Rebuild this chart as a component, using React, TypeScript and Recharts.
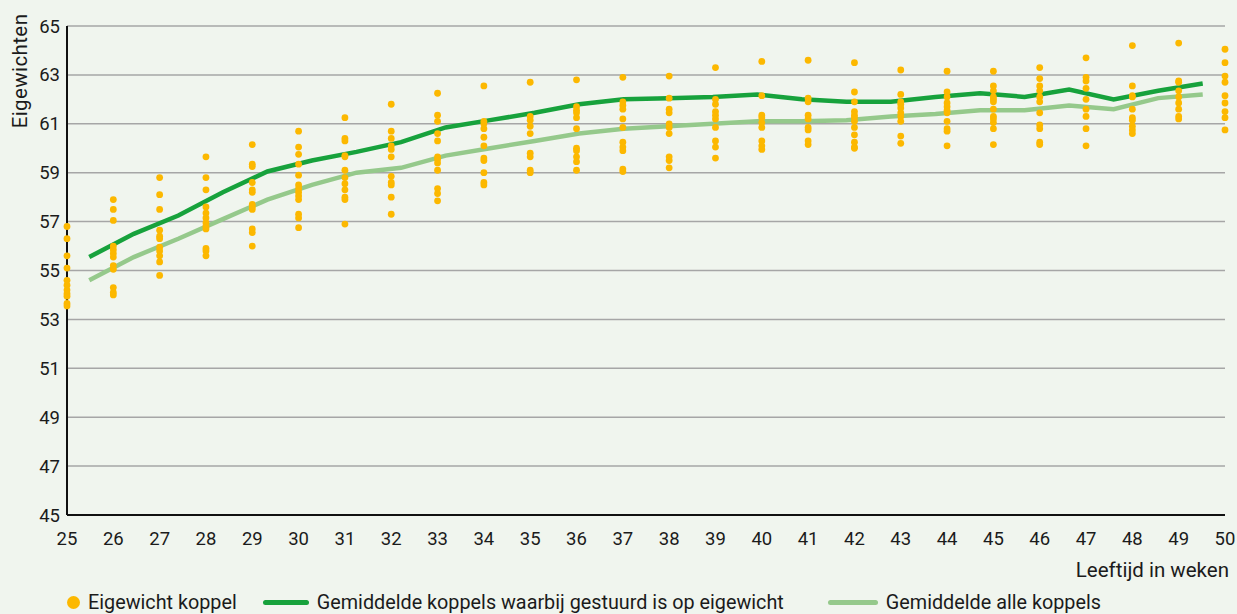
import { ComposedChart, Line, Scatter, XAxis, YAxis, CartesianGrid } from 'recharts';

const weeks = [25, 26, 27, 28, 29, 30, 31, 32, 33, 34, 35, 36, 37, 38, 39, 40, 41, 42, 43, 44, 45, 46, 47, 48, 49, 50];

// gemiddelde koppels waarbij gestuurd is op eigewicht
const gestuurd = [
  55.55, 56.5, 57.25, 58.2, 59.05, 59.5, 59.85, 60.25, 60.85, 61.15, 61.45, 61.8, 62.0,
  62.05, 62.1, 62.2, 62.0, 61.9, 61.9, 62.1, 62.25, 62.1, 62.4, 62.0, 62.35, 62.65,
];

// gemiddelde alle koppels
const alleKoppels = [
  54.6, 55.55, 56.3, 57.1, 57.9, 58.5, 59.0, 59.2, 59.7, 60.0, 60.3, 60.6, 60.8,
  60.9, 61.0, 61.1, 61.1, 61.15, 61.3, 61.4, 61.55, 61.55, 61.75, 61.6, 62.05, 62.2,
];

// eigewicht per koppel, één rij per week (zelfde volgorde als weeks)
const eigewicht = [
  [56.8, 56.3, 55.6, 55.1, 54.6, 54.4, 54.2, 54.05, 53.95, 53.65, 53.55],
  [57.9, 57.5, 57.05, 56.0, 55.85, 55.7, 55.55, 55.2, 55.05, 54.3, 54.1, 54.0],
  [58.8, 58.1, 57.5, 56.65, 56.4, 56.3, 55.95, 55.8, 55.6, 55.35, 54.8],
  [59.65, 58.8, 58.3, 57.6, 57.35, 57.15, 56.95, 56.8, 56.7, 55.9, 55.8, 55.6],
  [60.15, 59.35, 59.25, 58.6, 58.3, 58.2, 57.7, 57.6, 57.5, 56.7, 56.55, 56.0],
  [60.7, 60.05, 59.75, 59.35, 58.9, 58.5, 58.35, 58.2, 58.05, 57.9, 57.3, 57.15, 56.75],
  [61.25, 60.4, 60.3, 59.7, 59.65, 59.1, 58.8, 58.55, 58.3, 58.0, 57.9, 56.9],
  [61.8, 60.7, 60.4, 60.1, 59.95, 59.65, 58.85, 58.6, 58.5, 58.0, 57.3],
  [62.25, 61.35, 61.1, 60.6, 60.3, 59.65, 59.55, 59.4, 59.1, 58.35, 58.15, 57.85],
  [62.55, 61.1, 61.0, 60.8, 60.45, 60.1, 59.6, 59.5, 59.0, 58.6, 58.5],
  [62.7, 61.3, 61.15, 60.9, 60.6, 59.8, 59.65, 59.1, 59.0],
  [62.8, 61.7, 61.55, 61.45, 61.25, 60.8, 60.0, 59.9, 59.65, 59.45, 59.1],
  [62.9, 61.9, 61.75, 61.6, 61.2, 60.85, 60.25, 60.05, 59.9, 59.15, 59.05],
  [62.95, 62.05, 61.6, 61.45, 61.0, 60.85, 60.6, 59.65, 59.5, 59.2],
  [63.3, 62.0, 61.8, 61.5, 61.35, 61.2, 60.85, 60.3, 60.05, 59.6],
  [63.55, 62.15, 61.35, 61.25, 61.05, 60.85, 60.3, 60.1, 59.95],
  [63.6, 62.05, 61.9, 61.35, 61.2, 60.85, 60.75, 60.3, 60.15],
  [63.5, 62.3, 61.9, 61.5, 61.35, 61.25, 61.1, 60.85, 60.55, 60.25, 60.05, 60.0],
  [63.2, 62.2, 61.9, 61.8, 61.65, 61.45, 61.3, 61.1, 60.5, 60.2],
  [63.15, 62.3, 62.1, 61.85, 61.7, 61.55, 61.45, 61.1, 60.8, 60.7, 60.1],
  [63.15, 62.55, 62.35, 62.1, 62.0, 61.9, 61.6, 61.3, 61.2, 61.05, 60.8, 60.15],
  [63.3, 62.85, 62.55, 62.35, 62.1, 61.9, 61.45, 60.95, 60.8, 60.25, 60.15],
  [63.7, 62.9, 62.75, 62.45, 62.0, 61.6, 61.3, 60.8, 60.1],
  [64.2, 62.55, 62.15, 62.1, 61.6, 61.25, 61.15, 60.9, 60.75, 60.6],
  [64.3, 62.75, 62.7, 62.35, 62.1, 61.85, 61.6, 61.3, 61.2],
  [64.05, 63.5, 62.95, 62.7, 62.15, 61.85, 61.5, 61.25, 60.75],
];

const yTicks = [45, 47, 49, 51, 53, 55, 57, 59, 61, 63, 65];

const lineData = weeks.map((week, i) => ({ week, gestuurd: gestuurd[i], alle: alleKoppels[i] }));
const dotData = weeks.flatMap((week, i) => eigewicht[i].map((kg) => ({ week, kg })));

const BG = '#f0f5ee';
const ORANJE = '#fcb800';
const DONKERGROEN = '#17a23c';
const LICHTGROEN = '#95c98b';
const FONT = 'Roboto, sans-serif';
const TEXT = '#1b1b1b';

const Dot = (props: any) => <circle cx={props.cx} cy={props.cy} r={3.4} fill={ORANJE} />;

export default function App() {
  return (
    <div style={{ position: 'relative', width: 1237, height: 614, background: BG, fontFamily: FONT, color: TEXT }}>
      <style>{`body{margin:0;background:${BG};}`}</style>
      <ComposedChart width={1237} height={560} margin={{ top: 26, right: 12, bottom: 15, left: 12 }}>
        <CartesianGrid horizontal vertical={false} stroke="#a6a6a6" strokeWidth={1.5} />
        <XAxis
          xAxisId="w"
          dataKey="week"
          type="number"
          domain={[25, 50]}
          ticks={weeks}
          interval={0}
          tickLine={false}
          tickSize={0}
          tickMargin={17}
          height={30}
          axisLine={{ stroke: '#111', strokeWidth: 2 }}
          tick={{ fill: TEXT, fontSize: 18.5, fontFamily: FONT }}
        />
        {/* de lijnen staan "tussen de streepjes": 26 categorieën over dezelfde breedte */}
        <XAxis xAxisId="lijn" dataKey="week" type="number" domain={[24.5, 50.5]} height={0} hide />
        <YAxis
          dataKey="kg"
          type="number"
          domain={[45, 65]}
          ticks={yTicks}
          interval={0}
          width={55}
          tickLine={false}
          tickSize={0}
          tickMargin={7}
          axisLine={{ stroke: '#111', strokeWidth: 2 }}
          tick={{ fill: TEXT, fontSize: 18.5, fontFamily: FONT }}
        />
        <Line
          xAxisId="lijn"
          data={lineData}
          dataKey="alle"
          stroke={LICHTGROEN}
          strokeWidth={4.5}
          dot={false}
          activeDot={false}
          isAnimationActive={false}
        />
        <Line
          xAxisId="lijn"
          data={lineData}
          dataKey="gestuurd"
          stroke={DONKERGROEN}
          strokeWidth={4.5}
          dot={false}
          activeDot={false}
          isAnimationActive={false}
        />
        <Scatter xAxisId="w" data={dotData} dataKey="kg" shape={Dot} isAnimationActive={false} />
      </ComposedChart>

      <div
        style={{
          position: 'absolute',
          left: 20,
          top: 71,
          transform: 'translate(-50%, -50%) rotate(-90deg)',
          fontSize: 20.5,
          letterSpacing: 0.4,
          whiteSpace: 'nowrap',
        }}
      >
        Eigewichten
      </div>

      <div style={{ position: 'absolute', right: 8, top: 558, fontSize: 20.5, whiteSpace: 'nowrap' }}>Leeftijd in weken</div>

      <div
        style={{
          position: 'absolute',
          left: 67,
          top: 591,
          display: 'flex',
          alignItems: 'center',
          fontSize: 19.8,
          whiteSpace: 'nowrap',
        }}
      >
        <span style={{ width: 13, height: 13, borderRadius: '50%', background: ORANJE, display: 'inline-block', marginRight: 8 }} />
        <span>Eigewicht koppel</span>
        <span style={{ width: 46, height: 5, borderRadius: 3, background: DONKERGROEN, display: 'inline-block', margin: '0 8px 0 26px' }} />
        <span>Gemiddelde koppels waarbij gestuurd is op eigewicht</span>
        <span style={{ width: 50, height: 5, borderRadius: 3, background: LICHTGROEN, display: 'inline-block', margin: '0 8px 0 44px' }} />
        <span>Gemiddelde alle koppels</span>
      </div>
    </div>
  );
}
